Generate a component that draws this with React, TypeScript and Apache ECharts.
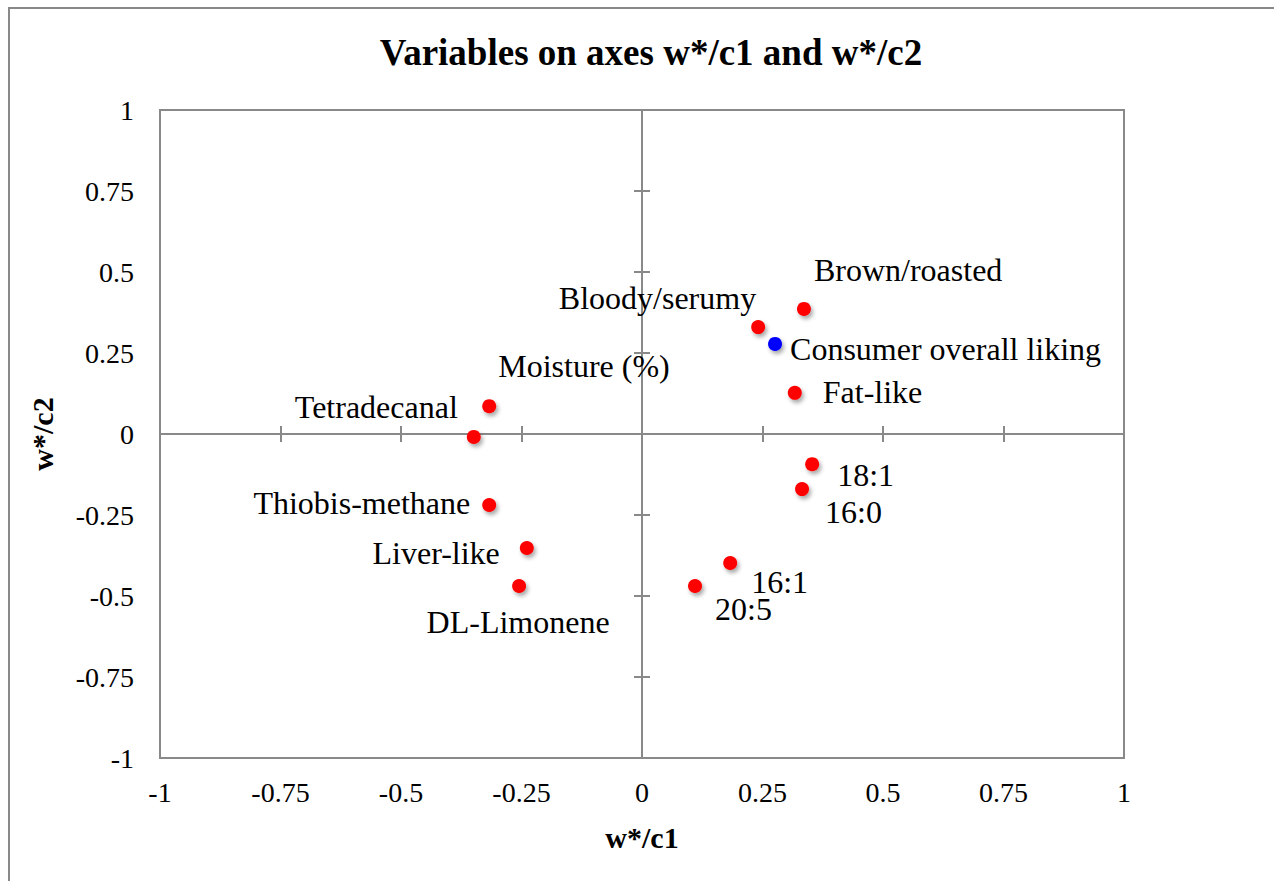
import React, { useEffect, useRef } from "react";
import * as echarts from "echarts";

const variableNames = [
  "Brown/roasted",
  "Bloody/serumy",
  "Fat-like",
  "Moisture (%)",
  "Tetradecanal",
  "18:1",
  "16:0",
  "Thiobis-methane",
  "Liver-like",
  "16:1",
  "DL-Limonene",
  "20:5",
];
const variableC1 = [0.336, 0.241, 0.317, -0.317, -0.349, 0.353, 0.332, -0.317, -0.239, 0.183, -0.255, 0.11];
const variableC2 = [0.386, 0.33, 0.127, 0.086, -0.009, -0.093, -0.17, -0.219, -0.352, -0.398, -0.469, -0.469];

const consumerNames = ["Consumer overall liking"];
const consumerC1 = [0.276];
const consumerC2 = [0.278];

const tickValues = ["-1", "-0.75", "-0.5", "-0.25", "0", "0.25", "0.5", "0.75", "1"];

// label placement (style): [align, dx, dy]
const variableLabelPlacement: [string, number, number][] = [
  ["left", 10, -39],
  ["right", -2, -29],
  ["left", 28, -1],
  ["left", 9, -40],
  ["right", -16, -30],
  ["left", 25, 11],
  ["left", 23, 23],
  ["right", -19, -2],
  ["right", -27, 5],
  ["left", 21, 19],
  ["center", -1, 36],
  ["left", 20, 23],
];
const consumerLabelPlacement: [string, number, number][] = [["left", 15, 5]];

const FONT = "'Liberation Serif', 'Times New Roman', serif";
const GREY = "#898989";

export default function App() {
  const ref = useRef<HTMLDivElement>(null);
  useEffect(() => {
    if (!ref.current) return;
    const chart = echarts.init(ref.current, null, { renderer: "svg" });
    const gridRect = { left: 160, top: 110, right: 150, bottom: 123 };
    const fmt = (v: number) => {
      const s = String(v);
      const idx = tickValues.indexOf(s);
      return idx >= 0 ? tickValues[idx] : s;
    };
    const mkData = (
      names: string[],
      xs: number[],
      ys: number[],
      placement: [string, number, number][]
    ) =>
      names.map((n, i) => ({
        name: n,
        value: [xs[i], ys[i]],
        label: {
          show: true,
          position: "inside",
          align: placement[i][0],
          verticalAlign: "middle",
          offset: [placement[i][1], placement[i][2]],
          formatter: n,
          color: "#000",
          fontSize: 32,
          fontFamily: FONT,
        },
      }));

    const zeroAxis = (inside: boolean, gi: number) => ({
      type: "value",
      gridIndex: gi,
      min: -1,
      max: 1,
      interval: 0.25,
      axisLine: { show: true, onZero: true, lineStyle: { color: GREY, width: 2 } },
      axisTick: { show: true, inside, length: 8, lineStyle: { color: GREY, width: 2 } },
      axisLabel: { show: false },
      splitLine: { show: false },
    });

    chart.setOption({
      animation: false,
      backgroundColor: "#fff",
      title: {
        text: "Variables on axes w*/c1 and w*/c2",
        left: 646,
        textAlign: "center",
        top: 29,
        textStyle: { fontFamily: FONT, fontWeight: "bold", fontSize: 37, color: "#000" },
      },
      graphic: [
        {
          type: "rect",
          shape: { x: 9, y: 8, width: 1300, height: 900 },
          style: { fill: "none", stroke: GREY, lineWidth: 2 },
          silent: true,
        },
      ],
      grid: [
        { ...gridRect, show: true, borderColor: GREY, borderWidth: 2, backgroundColor: "transparent" },
        { ...gridRect },
        { ...gridRect },
      ],
      xAxis: [
        {
          type: "value",
          gridIndex: 0,
          min: -1,
          max: 1,
          interval: 0.25,
          name: "w*/c1",
          nameLocation: "middle",
          nameGap: 64,
          nameTextStyle: { fontFamily: FONT, fontWeight: "bold", fontSize: 30, color: "#000" },
          axisLine: { show: false, onZero: false },
          axisTick: { show: false },
          splitLine: { show: false },
          axisLabel: {
            show: true,
            margin: 20,
            fontFamily: FONT,
            fontSize: 28,
            color: "#000",
            formatter: (v: number) => fmt(v),
          },
        },
        zeroAxis(true, 1),
        zeroAxis(false, 2),
      ],
      yAxis: [
        {
          type: "value",
          gridIndex: 0,
          min: -1,
          max: 1,
          interval: 0.25,
          name: "w*/c2",
          nameLocation: "middle",
          nameGap: 103,
          nameRotate: 90,
          nameTextStyle: { fontFamily: FONT, fontWeight: "bold", fontSize: 30, color: "#000" },
          axisLine: { show: false, onZero: false },
          axisTick: { show: false },
          splitLine: { show: false },
          axisLabel: {
            show: true,
            margin: 26,
            fontFamily: FONT,
            fontSize: 28,
            color: "#000",
            formatter: (v: number) => fmt(v),
          },
        },
        zeroAxis(true, 1),
        zeroAxis(false, 2),
      ],
      series: [
        {
          type: "scatter",
          name: "Variables",
          xAxisIndex: 0,
          yAxisIndex: 0,
          symbol: "circle",
          symbolSize: 14,
          itemStyle: {
            color: "#ff0000",
            opacity: 1,
            shadowBlur: 4,
            shadowColor: "rgba(0,0,0,0.35)",
            shadowOffsetX: 2,
            shadowOffsetY: 3,
          },
          data: mkData(variableNames, variableC1, variableC2, variableLabelPlacement),
          z: 5,
        },
        {
          type: "scatter",
          name: "Consumer",
          xAxisIndex: 0,
          yAxisIndex: 0,
          symbol: "circle",
          symbolSize: 14,
          itemStyle: {
            color: "#0000ff",
            opacity: 1,
            shadowBlur: 4,
            shadowColor: "rgba(0,0,0,0.35)",
            shadowOffsetX: 2,
            shadowOffsetY: 3,
          },
          data: mkData(consumerNames, consumerC1, consumerC2, consumerLabelPlacement),
          z: 5,
        },
      ],
    });
    return () => chart.dispose();
  }, []);
  return (
    <div
      ref={ref}
      style={{ position: "fixed", left: 0, top: 0, width: 1274, height: 881, background: "#fff" }}
    />
  );
}
